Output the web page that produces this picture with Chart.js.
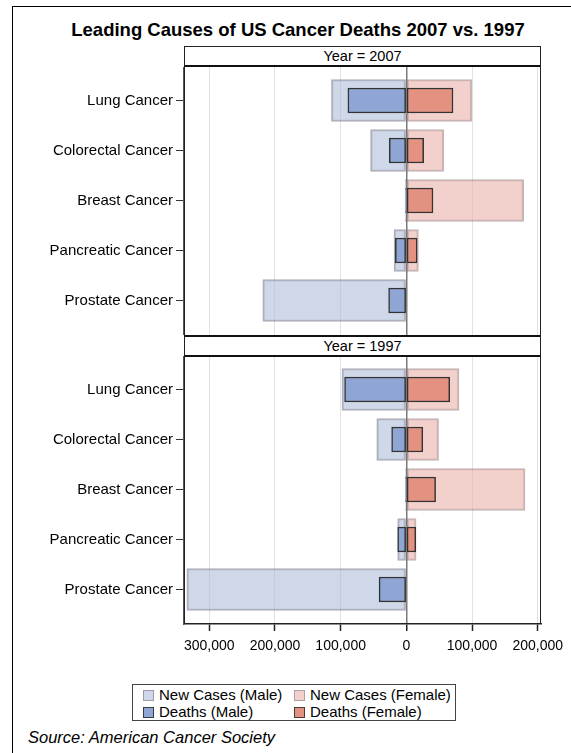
<!DOCTYPE html>
<html>
<head>
<meta charset="utf-8">
<script src="https://cdn.jsdelivr.net/npm/chart.js@4.4.1/dist/chart.umd.min.js"></script>
<style>
  body { margin: 0; background: #fff; font-family: "Liberation Sans", Arial, sans-serif; }
  #page { position: relative; width: 571px; height: 753px; overflow: hidden; }
  .abs { position: absolute; }
  #outer { left: 12px; top: 6px; width: 700px; height: 900px; border-left: 1px solid #000; border-top: 1px solid #000; }
  #title { left: 0; top: 20px; width: 596px; text-align: center; font-weight: bold; font-size: 18.5px; line-height: 20px; }
  .frame { left: 184px; top: 46px; width: 357px; height: 578px; border: 1px solid #222; border-bottom: none; box-sizing: border-box; pointer-events: none; z-index: 3; }
  .hdr { left: 184px; width: 357px; box-sizing: border-box; background: #fff; text-align: center; font-size: 14.5px; z-index: 4;
         border-left: 1px solid #222; border-right: 1px solid #222; }
  #hdr1 { top: 46px; height: 21px; border-top: 1px solid #222; border-bottom: 2px solid #111; line-height: 18px; }
  #hdr2 { top: 335px; height: 22px; border-top: 2px solid #111; border-bottom: 2px solid #111; line-height: 18px; }
  #legend { left: 132px; top: 684px; width: 324px; height: 37px; border: 1px solid #444; box-sizing: border-box; font-size: 15px; }
  .item { position: absolute; height: 17px; line-height: 17px; white-space: nowrap; }
  .sw { display: inline-block; width: 11px; height: 11px; box-sizing: border-box; vertical-align: -1px; margin-right: 5px; }
  #source { left: 28px; top: 728px; font-size: 16.5px; font-style: italic; line-height: 18px; }
</style>
</head>
<body>
<div id="page">
  <div id="outer" class="abs"></div>
  <div id="title" class="abs">Leading Causes of US Cancer Deaths 2007 vs. 1997</div>
  <canvas id="c2007" class="abs" style="left:0;top:67px" width="571" height="268"></canvas>
  <canvas id="c1997" class="abs" style="left:0;top:356px" width="571" height="304"></canvas>
  <div class="frame abs"></div>
  <div id="hdr1" class="hdr abs">Year = 2007</div>
  <div id="hdr2" class="hdr abs">Year = 1997</div>
  <div id="legend" class="abs"></div>
  <div id="source" class="abs">Source: American Cancer Society</div>
</div>
<script>
const categories = ['Lung Cancer', 'Colorectal Cancer', 'Breast Cancer', 'Pancreatic Cancer', 'Prostate Cancer'];

// 2007
const newMale2007 = [114000, 54500, 2000, 18800, 218500];
const deathsMale2007 = [89000, 26000, 500, 16800, 27000];
const newFemale2007 = [99500, 57000, 178500, 18300, 0];
const deathsFemale2007 = [71000, 26300, 40500, 16400, 0];

// 1997
const newMale1997 = [98000, 45000, 1400, 13200, 334000];
const deathsMale1997 = [94000, 22400, 300, 13200, 41500];
const newFemale1997 = [80000, 49000, 180500, 14800, 0];
const deathsFemale1997 = [66000, 25000, 44500, 14300, 0];

const xTicks = [-300000, -200000, -100000, 0, 100000, 200000];
const seriesNames = ['New Cases (Male)', 'New Cases (Female)', 'Deaths (Male)', 'Deaths (Female)'];

const fills = ['rgba(175,190,219,0.6)', 'rgba(233,177,168,0.6)', '#8fa5d3', '#e39282'];
const borders = ['rgba(110,110,125,0.55)', 'rgba(140,110,110,0.5)', '#333', '#333'];

function points(vals, sign) {
  return vals.map((v, i) => ({ x: sign * v, y: i })).filter(p => p.x !== 0);
}

function makeChart(id, newM, deathM, newF, deathF, showX) {
  const sets = [[newM, -1], [newF, 1], [deathM, -1], [deathF, 1]];
  const datasets = sets.map((s, k) => ({
    label: seriesNames[k],
    data: points(s[0], s[1]),
    backgroundColor: fills[k],
    borderColor: borders[k],
    borderWidth: 1.5,
    borderSkipped: false,
    barThickness: k < 2 ? 42 : 25,
    grouped: false,
    order: k < 2 ? 1 : 0
  }));

  new Chart(document.getElementById(id), {
    type: 'bar',
    data: { datasets },
    options: {
      indexAxis: 'y',
      responsive: false,
      animation: false,
      devicePixelRatio: 1,
      layout: { padding: { left: 0, right: 30, top: 0, bottom: 0 } },
      plugins: { legend: { display: false }, tooltip: { enabled: false } },
      scales: {
        x: {
          type: 'linear',
          min: -338400,
          max: 204900,
          afterBuildTicks: s => { s.ticks = xTicks.map(v => ({ value: v })); },
          afterFit: s => { s.height = showX ? 36 : 0; },
          grid: {
            color: c => c.tick && c.tick.value === 0 ? '#7a7a7a' : '#e2e2e2',
            lineWidth: c => c.tick && c.tick.value === 0 ? 1.5 : 1,
            drawTicks: showX,
            tickLength: 7,
            tickWidth: 1.5,
            tickColor: '#222'
          },
          border: { display: showX, color: '#222', width: 1.5 },
          ticks: {
            display: showX,
            padding: 7,
            color: '#000',
            font: { family: 'Liberation Sans', size: 14 },
            callback: v => Math.abs(v).toLocaleString('en-US')
          }
        },
        y: {
          type: 'linear',
          reverse: true,
          offset: false,
          min: -0.67,
          max: 4.69,
          afterBuildTicks: s => { s.ticks = categories.map((c, i) => ({ value: i })); },
          afterFit: s => { s.width = 184; s.paddingTop = 0; s.paddingBottom = 0; },
          grid: { offset: false, drawOnChartArea: false, tickLength: 8, tickColor: '#333' },
          border: { display: true, color: '#555', width: 1.5 },
          ticks: {
            padding: 3,
            color: '#000',
            font: { family: 'Liberation Sans', size: 15 },
            callback: v => categories[v]
          }
        }
      }
    }
  });
}

makeChart('c2007', newMale2007, deathsMale2007, newFemale2007, deathsFemale2007, false);
makeChart('c1997', newMale1997, deathsMale1997, newFemale1997, deathsFemale1997, true);

// legend
const legend = document.getElementById('legend');
const legendPos = [[10, 1], [161, 1], [10, 18], [161, 18]];
const swBorders = ['#9a9aa8', '#b0a0a0', '#3a3a44', '#4a3a3a'];
const swFills = ['#cfd8ea', '#f2d0cb', '#8fa5d3', '#e39282'];
seriesNames.forEach((name, k) => {
  const it = document.createElement('div');
  it.className = 'item';
  it.style.left = legendPos[k][0] + 'px';
  it.style.top = legendPos[k][1] + 'px';
  it.innerHTML = '<span class="sw" style="background:' + swFills[k] + ';border:1px solid ' + swBorders[k] + '"></span>' + name;
  legend.appendChild(it);
});
</script>
</body>
</html>
